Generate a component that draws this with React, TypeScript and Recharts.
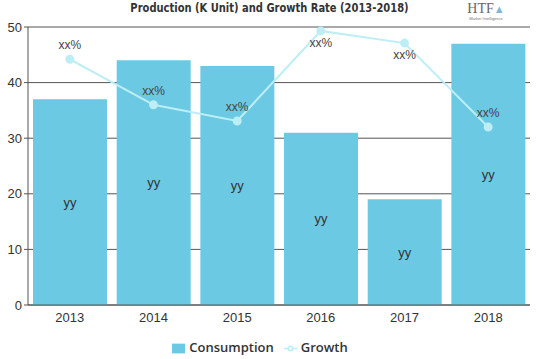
import React from 'react';
import { ComposedChart, Bar, Line, XAxis, YAxis, CartesianGrid, Legend, LabelList } from 'recharts';

const years = ['2013', '2014', '2015', '2016', '2017', '2018'];
const consumption = [37, 44, 43, 31, 19, 47];
const growth = [44.2, 36, 33.1, 49.3, 47.1, 32];
const barLabels = ['yy', 'yy', 'yy', 'yy', 'yy', 'yy'];
const growthLabels = ['xx%', 'xx%', 'xx%', 'xx%', 'xx%', 'xx%'];
const yTicks = [0, 10, 20, 30, 40, 50];

const data = years.map((year, i) => ({
    year,
    Consumption: consumption[i],
    Growth: growth[i],
    barLabel: barLabels[i],
    growthLabel: growthLabels[i],
}));

const GrowthLabel = (props: any) => {
    const { x, y, value } = props;
    const below = y < 50;
    return (
        <text x={x} y={below ? y + 16 : y - 10} textAnchor="middle" fill="#444" fontSize={12}
            fontFamily="'Liberation Sans', Arial, sans-serif">
            {value}
        </text>
    );
};

const App: React.FC = () => {
    return (
        <div style={{ position: 'absolute', left: 0, top: 0, width: 539, height: 359, background: '#fff' }}>
            <div style={{
                position: 'absolute', left: 0, top: 0, width: 539, textAlign: 'center',
                fontFamily: "'DejaVu Sans Condensed', 'DejaVu Sans', sans-serif", fontWeight: 'bold',
                fontSize: 13, color: '#333', transform: 'scaleX(0.85)', zIndex: 2,
            }}>
                Production (K Unit) and Growth Rate (2013-2018)
            </div>
            <div style={{ position: 'absolute', left: 460, top: 2, width: 52, textAlign: 'center', zIndex: 2 }}>
                <div style={{ fontFamily: "'Liberation Serif', serif", fontSize: 14, color: '#666', lineHeight: '14px' }}>
                    HTF<span style={{ color: '#7fb6d9', fontSize: 11 }}>▲</span>
                </div>
                <div style={{ fontFamily: "'Liberation Sans', sans-serif", fontSize: 4, color: '#777', lineHeight: '6px' }}>
                    Market Intelligence
                </div>
            </div>
            <ComposedChart width={539} height={359} data={data}
                margin={{ top: 27, right: 9, left: 0, bottom: 0 }} barCategoryGap="6%">
                <CartesianGrid vertical={false} stroke="#555" strokeWidth={1} />
                <XAxis dataKey="year" stroke="#555" tickLine={false} height={22}
                    tick={{ fill: '#333', fontSize: 13, fontFamily: "'Liberation Sans', Arial, sans-serif" }} />
                <YAxis domain={[0, 50]} ticks={yTicks} width={28} stroke="#555" tickSize={4}
                    tick={{ fill: '#333', fontSize: 13, fontFamily: "'Liberation Sans', Arial, sans-serif" }} />
                <Legend verticalAlign="bottom" height={32} iconSize={13}
                    wrapperStyle={{ top: 338, fontFamily: "'Open Sans', Lato, sans-serif", fontSize: 13, fontWeight: 600, color: '#333' }}
                    formatter={(value: string) => <span style={{ color: '#333' }}>{value}</span>} />
                <Bar dataKey="Consumption" fill="#6cc9e3" isAnimationActive={false}>
                    <LabelList dataKey="barLabel" position="center" fill="#333" fontSize={13}
                        fontFamily="'Liberation Sans', Arial, sans-serif" />
                </Bar>
                <Line dataKey="Growth" stroke="#bdeef5" strokeWidth={2} isAnimationActive={false}
                    dot={{ r: 3.5, fill: '#bdeef5', stroke: '#bdeef5' }} legendType="line">
                    <LabelList dataKey="growthLabel" content={GrowthLabel} />
                </Line>
            </ComposedChart>
        </div>
    );
};

export default App;
